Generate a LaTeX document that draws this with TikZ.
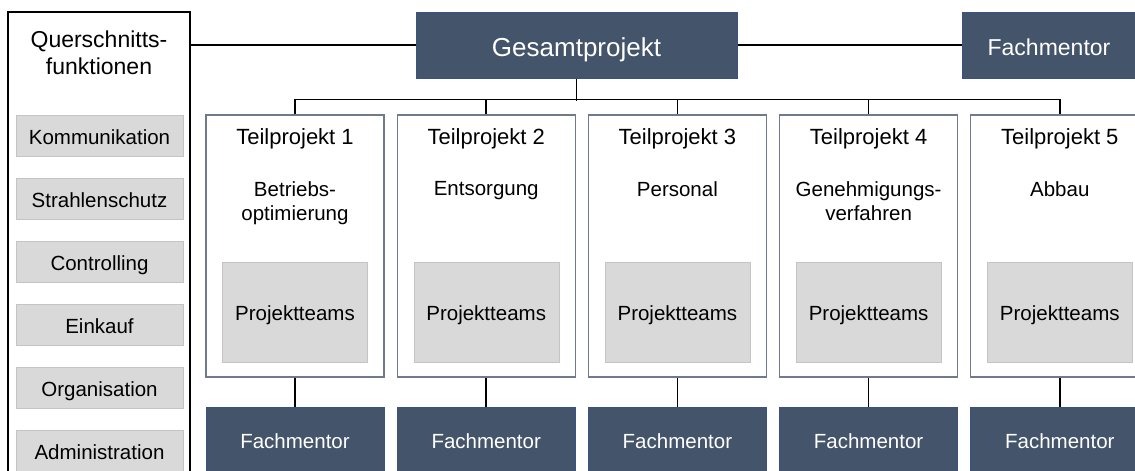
\documentclass[tikz,border=0pt]{standalone}
\usepackage{fontspec}
\setmainfont{Liberation Sans}
\usetikzlibrary{positioning}

\definecolor{slate}{HTML}{44546A}
\definecolor{slateline}{HTML}{3A5283}
\definecolor{boxline}{HTML}{6F7A8C}
\definecolor{panel}{HTML}{D9D9D9}
\definecolor{panelline}{HTML}{C4C4C4}

\begin{document}
\begin{tikzpicture}[x=1pt, y=-1pt, every node/.style={font=\fontsize{20.5}{24}\selectfont}]
\tikzstyle{dark} = [rectangle, fill=slate, draw=slateline, line width=1pt, text=white, text height=15pt, text depth=0pt]
\tikzstyle{teil} = [rectangle, draw=boxline, line width=1.2pt, fill=white, minimum width=178pt, minimum height=262pt]
\tikzstyle{team} = [rectangle, fill=panel, draw=panelline, minimum width=145pt, minimum height=100pt, text height=17pt, text depth=0pt]
\tikzstyle{func} = [rectangle, fill=panel, draw=panelline, minimum width=167pt, minimum height=41pt, text height=18pt, text depth=0pt]
\tikzstyle{teiltitle} = [font=\fontsize{22}{26}\selectfont, text height=16pt, text depth=0pt]
\tikzstyle{subtitle} = [anchor=north, align=center, inner sep=0pt]
\tikzstyle{mentorbox} = [dark, minimum width=178pt, minimum height=68pt]
\tikzstyle{verbindung} = [line width=1.6pt]

\useasboundingbox (0,0) rectangle (1135,471);
\clip (0,0) rectangle (1135,471);

% Left column (cross-sectional functions)
\node (quer) [rectangle, draw=black, line width=1.2pt, minimum width=182pt, minimum height=470pt] at (99,247) {};
\node (quertext) [font=\fontsize{23}{27}\selectfont, align=center, anchor=north, inner sep=0pt] at (99,31) {Querschnitts-\\funktionen};
\node (komm) [func] at (99.5,135.5) {Kommunikation};
\node (strahl) [func] at (99.5,198.5) {Strahlenschutz};
\node (contr) [func] at (99.5,261.5) {Controlling};
\node (eink) [func] at (99.5,324.5) {Einkauf};
\node (orga) [func] at (99.5,387.5) {Organisation};
\node (admin) [func] at (99.5,450.5) {Administration};

% Top row
\node (gesamt) [dark, minimum width=321pt, minimum height=66pt, font=\fontsize{26}{30}\selectfont, text height=23pt] at (576.5,45) {Gesamtprojekt};
\node (mentor) [dark, minimum width=174pt, minimum height=66pt, font=\fontsize{23}{27}\selectfont, text height=21pt] at (1049,45) {Fachmentor};

% Sub-project boxes - left to right
\node (tp1) [teil] at (295,246) {};
\node (tp2) [teil, right=12pt of tp1] {};
\node (tp3) [teil, right=12pt of tp2] {};
\node (tp4) [teil, right=12pt of tp3] {};
\node (tp5) [teil, right=12pt of tp4] {};

% Titles and topics
\node (title1) [teiltitle] at ([yshift=-22pt]tp1.north) {Teilprojekt 1};
\node (title2) [teiltitle] at ([yshift=-22pt]tp2.north) {Teilprojekt 2};
\node (title3) [teiltitle] at ([yshift=-22pt]tp3.north) {Teilprojekt 3};
\node (title4) [teiltitle] at ([yshift=-22pt]tp4.north) {Teilprojekt 4};
\node (title5) [teiltitle] at ([yshift=-22pt]tp5.north) {Teilprojekt 5};
\node (sub1) [subtitle] at ([yshift=-67pt]tp1.north) {Betriebs-\\optimierung};
\node (sub2) [subtitle] at ([yshift=-67pt]tp2.north) {Entsorgung};
\node (sub3) [subtitle] at ([yshift=-67pt]tp3.north) {Personal};
\node (sub4) [subtitle] at ([yshift=-67pt]tp4.north) {Genehmigungs-\\verfahren};
\node (sub5) [subtitle] at ([yshift=-67pt]tp5.north) {Abbau};

% Project teams
\node (team1) [team] at ([yshift=-66pt]tp1.center) {Projektteams};
\node (team2) [team] at ([yshift=-66pt]tp2.center) {Projektteams};
\node (team3) [team] at ([yshift=-66pt]tp3.center) {Projektteams};
\node (team4) [team] at ([yshift=-66pt]tp4.center) {Projektteams};
\node (team5) [team] at ([yshift=-66pt]tp5.center) {Projektteams};

% Bottom row mentors
\node (fm1) [mentorbox, below=29pt of tp1] {Fachmentor};
\node (fm2) [mentorbox, below=29pt of tp2] {Fachmentor};
\node (fm3) [mentorbox, below=29pt of tp3] {Fachmentor};
\node (fm4) [mentorbox, below=29pt of tp4] {Fachmentor};
\node (fm5) [mentorbox, below=29pt of tp5] {Fachmentor};

% Top connections
\draw [verbindung] (gesamt.west) -- (gesamt.west -| quer.east);
\draw [verbindung] (gesamt.east) -- (mentor.west);
\draw [verbindung] (gesamt.south) -- ++(0,22);

% Branches down to the sub-projects
\draw [verbindung] (tp1.north) -- ++(0,-15) -| (tp5.north);
\draw [verbindung] (tp2.north) -- ++(0,-15);
\draw [verbindung] (tp3.north) -- ++(0,-15);
\draw [verbindung] (tp4.north) -- ++(0,-15);

% Sub-projects to mentors
\draw [verbindung] (tp1.south) -- (fm1.north);
\draw [verbindung] (tp2.south) -- (fm2.north);
\draw [verbindung] (tp3.south) -- (fm3.north);
\draw [verbindung] (tp4.south) -- (fm4.north);
\draw [verbindung] (tp5.south) -- (fm5.north);

\end{tikzpicture}
\end{document}
